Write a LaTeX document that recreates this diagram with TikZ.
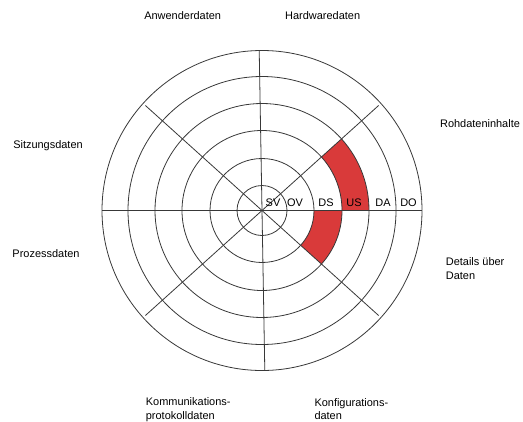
\documentclass[tikz,border=0pt]{standalone}
\usepackage{fontspec}
\setmainfont{Liberation Sans}
\definecolor{sectorred}{RGB}{217,58,58}
\begin{document}
\begin{tikzpicture}[x=1bp,y=1bp,
  ln/.style={draw=black!78, line width=0.8bp},
  lab/.style={font=\fontsize{11}{13.6}\selectfont, inner sep=0pt},
  ring/.style={font=\fontsize{11}{13}\selectfont, inner sep=0pt, anchor=base}]
\useasboundingbox (0,0) rectangle (523,421);
\coordinate (c) at (262,210.5);
% red sectors
\fill[sectorred] ([shift={(0:80)}]c) arc[start angle=0,end angle=42,radius=80]
  -- ([shift={(42:107)}]c) arc[start angle=42,end angle=0,radius=107] -- cycle;
\fill[sectorred] ([shift={(0:52)}]c) arc[start angle=0,end angle=-42,radius=52]
  -- ([shift={(-42:80)}]c) arc[start angle=-42,end angle=0,radius=80] -- cycle;
% rings
\foreach \r in {25,52,80,107,134,160} \draw[ln] (c) circle[radius=\r];
% spokes
\draw[ln] ([shift={(180:160)}]c) -- ([shift={(0:160)}]c);
\draw[ln] ([shift={(91:160)}]c) -- ([shift={(271:160)}]c);
\draw[ln] ([shift={(42:157)}]c) -- ([shift={(222:157)}]c);
\draw[ln] ([shift={(138:157)}]c) -- ([shift={(318:157)}]c);
% ring labels
\node[ring] (sv) at ([shift={(11,4.5)}]c) {SV};
\node[ring] (ov) at ([shift={(33,4.5)}]c) {OV};
\node[ring] (ds) at ([shift={(64,4.5)}]c) {DS};
\node[ring] (us) at ([shift={(92,4.5)}]c) {US};
\node[ring] (da) at ([shift={(121,4.5)}]c) {DA};
\node[ring] (do) at ([shift={(146.5,4.5)}]c) {DO};
% outer labels
\node[lab] (anw) at (182.7,405.3) {Anwenderdaten};
\node[lab] (hw) at (322.7,405.3) {Hardwaredaten};
\node[lab] (roh) at (480,297) {Rohdateninhalte};
\node[lab] (sitz) at (48,275) {Sitzungsdaten};
\node[lab] (proz) at (46,167) {Prozessdaten};
\node[lab, anchor=west, align=left] (det) at (445.7,152.5) {Details über\\Daten};
\node[lab, anchor=west, align=left] (kom) at (145.7,11.5) {Kommunikations-\\protokolldaten};
\node[lab, anchor=west, align=left] (konf) at (314.3,12) {Konfigurations-\\daten};
\end{tikzpicture}
\end{document}
